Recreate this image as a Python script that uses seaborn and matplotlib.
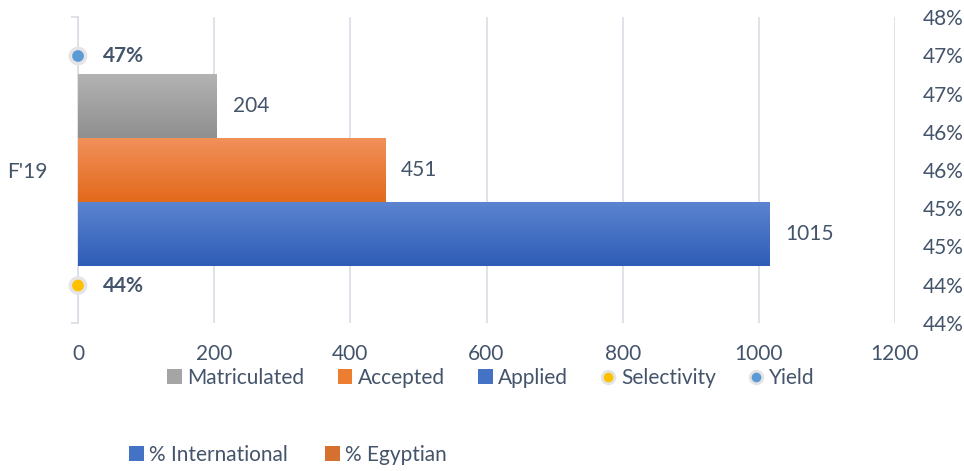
import numpy as np
import pandas as pd
import matplotlib
matplotlib.use("Agg")
import matplotlib.pyplot as plt
from matplotlib.colors import LinearSegmentedColormap
from matplotlib.lines import Line2D
from matplotlib.patches import Patch
from matplotlib.ticker import FixedLocator
import seaborn as sns

# ---- data ----
terms = ["F'19"]
series = ["Matriculated", "Accepted", "Applied"]
counts = [204, 451, 1015]
rate_names = ["Selectivity", "Yield"]
rates = [0.4449, 0.4749]
x_ticks = [0, 200, 400, 600, 800, 1000, 1200]
right_ticks = [0.44, 0.445, 0.45, 0.455, 0.46, 0.465, 0.47, 0.475, 0.48]
right_tick_labels = ["44%", "44%", "45%", "45%", "46%", "46%", "47%", "47%", "48%"]
extra_legend = ["% International", "% Egyptian"]

# ---- style ----
sns.set_style("white")
plt.rcParams["font.family"] = ["Lato", "DejaVu Sans"]
TEXT = "#44546a"
GRID = "#d9dde4"
FS = 15

bar_top = {"Matriculated": "#b3b3b3", "Accepted": "#f1915a", "Applied": "#5b84d0"}
bar_bot = {"Matriculated": "#8f8f8f", "Accepted": "#e3691b", "Applied": "#2f5db6"}
bar_mid = {"Matriculated": "#a5a5a5", "Accepted": "#ed7d31", "Applied": "#4472c4"}
dot_col = {"Selectivity": "#ffc000", "Yield": "#5b9bd5"}
extra_col = ["#4472c4", "#d6702e"]

df = pd.DataFrame({"term": terms * len(series), "series": series, "count": counts})
rate_df = pd.DataFrame({"x": [0] * len(rates), "rate": rates, "name": rate_names})

fig = plt.figure(figsize=(9.64, 4.71), dpi=100)
ax = fig.add_axes([78 / 964, 1 - 323 / 471, 817 / 964, 306 / 471])

sns.barplot(data=df, y="term", x="count", hue="series", hue_order=series,
            palette=bar_mid, orient="h", width=0.627, ax=ax, legend=False,
            linewidth=0, saturation=1, zorder=3)

ax.set_xlim(0, 1200)
ax.set_ylim(0.5, -0.5)

# vertical gradient on each bar
bars = [p for p in ax.patches]
for patch, name in zip(bars, series):
    bb = patch.get_bbox()
    cmap = LinearSegmentedColormap.from_list(name, [bar_top[name], bar_bot[name]])
    grad = np.linspace(0, 1, 256).reshape(-1, 1)
    y_lo, y_hi = min(bb.y0, bb.y1), max(bb.y0, bb.y1)
    # origin='upper': first row drawn at the "top" extent value
    ax.imshow(grad, cmap=cmap, aspect="auto", origin="upper",
              extent=(bb.x0, bb.x1, y_hi, y_lo), zorder=4)
    ax.annotate(f"{patch.get_width():.0f}", xy=(bb.x1, (y_lo + y_hi) / 2),
                xytext=(16, 0), textcoords="offset pixels", ha="left",
                va="center", fontsize=FS, color=TEXT)
ax.set_xlim(0, 1200)
ax.set_ylim(0.5, -0.5)

# axes styling
ax.set_xticks(x_ticks)
ax.xaxis.grid(True, color=GRID, linewidth=1.2)
ax.set_axisbelow(True)
for s in ["top", "right", "bottom"]:
    ax.spines[s].set_visible(False)
ax.spines["left"].set_color(GRID)
ax.spines["left"].set_linewidth(1.2)
ax.tick_params(axis="x", length=0, pad=15, labelsize=FS, labelcolor=TEXT)
ax.tick_params(axis="y", which="major", length=0, pad=22, labelsize=FS, labelcolor=TEXT)
ax.yaxis.set_minor_locator(FixedLocator([-0.5, 0.5]))
ax.tick_params(axis="y", which="minor", length=5, width=1.2, color=GRID)
ax.set_xlabel("")
ax.set_ylabel("")

# rates on secondary axis
ax2 = ax.twinx()
sns.scatterplot(data=rate_df, x="x", y="rate", hue="name", palette=dot_col,
                s=120, edgecolor="#e4e4e4", linewidth=2.5, ax=ax2,
                legend=False, clip_on=False, zorder=6)
ax2.set_ylim(0.44, 0.48)
ax2.set_yticks(right_ticks)
ax2.set_yticklabels(right_tick_labels)
ax2.tick_params(axis="y", length=0, pad=20, labelsize=FS, labelcolor=TEXT)
for s in ax2.spines.values():
    s.set_visible(False)
ax2.set_ylabel("")
ax2.set_xlim(0, 1200)
for r in rates:
    ax2.annotate(f"{r:.0%}", xy=(0, r), xytext=(25, 0), textcoords="offset pixels",
                 ha="left", va="center", fontsize=FS, fontweight="bold", color=TEXT)

# legends
handles = [Patch(facecolor=bar_mid[n], edgecolor="none", label=n) for n in series]
handles += [Line2D([], [], marker="o", linestyle="none", markersize=9,
                   markerfacecolor=dot_col[n], markeredgecolor="#e4e4e4",
                   markeredgewidth=2, label=n) for n in rate_names]
fig.legend(handles=handles, loc="center", bbox_to_anchor=(491 / 964, 1 - 378 / 471),
           ncol=5, frameon=False, fontsize=FS, labelcolor=TEXT, handlelength=0.7,
           handleheight=0.7, handletextpad=0.25, columnspacing=1.6)

handles2 = [Patch(facecolor=c, edgecolor="none", label=n) for n, c in zip(extra_legend, extra_col)]
fig.legend(handles=handles2, loc="center", bbox_to_anchor=(288 / 964, 1 - 455 / 471),
           ncol=2, frameon=False, fontsize=FS, labelcolor=TEXT, handlelength=0.7,
           handleheight=0.7, handletextpad=0.25, columnspacing=1.8)

fig.savefig("out.png", dpi=100)
